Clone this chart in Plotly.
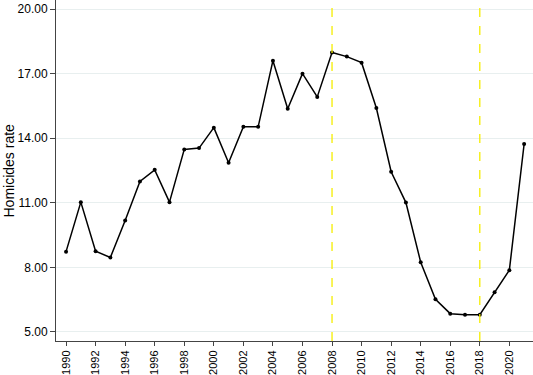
import plotly.graph_objects as go

years = list(range(1990, 2022))
rates = [8.73, 11.03, 8.75, 8.46, 10.18, 11.99, 12.53, 11.03, 13.48, 13.54,
         14.49, 12.86, 14.53, 14.53, 17.60, 15.37, 17.00, 15.92, 17.98, 17.79,
         17.51, 15.40, 12.44, 11.01, 8.24, 6.52, 5.85, 5.80, 5.80, 6.85,
         7.87, 13.73]
y_ticks = [5, 8, 11, 14, 17, 20]
x_ticks = list(range(1990, 2022, 2))
vlines = [2008, 2018]
y_title = "Homicides rate"

fig = go.Figure()
fig.add_trace(go.Scatter(
    x=years, y=rates, mode="lines+markers",
    line=dict(color="black", width=1.5),
    marker=dict(color="black", size=4),
    showlegend=False, cliponaxis=False,
))
for v in vlines:
    fig.add_shape(type="line", x0=v, x1=v, xref="x", y0=0, y1=1, yref="paper",
                  line=dict(color="#f5ee00", width=1.3, dash="dash"))

fig.add_annotation(text=y_title, xref="paper", yref="paper", x=0, y=0.5,
                   xanchor="center", yanchor="middle", xshift=-48,
                   textangle=-90, showarrow=False,
                   font=dict(size=14, color="black"))

fig.update_layout(
    width=533, height=375,
    margin=dict(l=56, r=0, t=0, b=34, autoexpand=False),
    paper_bgcolor="white", plot_bgcolor="white",
    font=dict(family="Liberation Sans, Arial, sans-serif", color="black"),
)
fig.update_xaxes(
    range=[1989.32, 2021.6], automargin=False,
    tickvals=x_ticks, ticktext=[str(t) for t in x_ticks],
    tickangle=-90, tickfont=dict(size=11),
    ticks="outside", ticklen=4, tickcolor="#444",
    showline=True, linecolor="#444", linewidth=1,
    showgrid=False, zeroline=False,
)
fig.update_yaxes(
    range=[4.58, 20.42], automargin=False,
    tickvals=y_ticks, ticktext=[f"{t:.2f}" for t in y_ticks],
    tickfont=dict(size=12),
    ticks="outside", ticklen=5, tickcolor="#444",
    showline=True, linecolor="#444", linewidth=1,
    showgrid=True, gridcolor="#e8efef", gridwidth=1,
    zeroline=False,
)
fig.write_html("out.html", config={"displayModeBar": False},
               post_script="document.body.style.margin='0';document.body.style.padding='0';")
